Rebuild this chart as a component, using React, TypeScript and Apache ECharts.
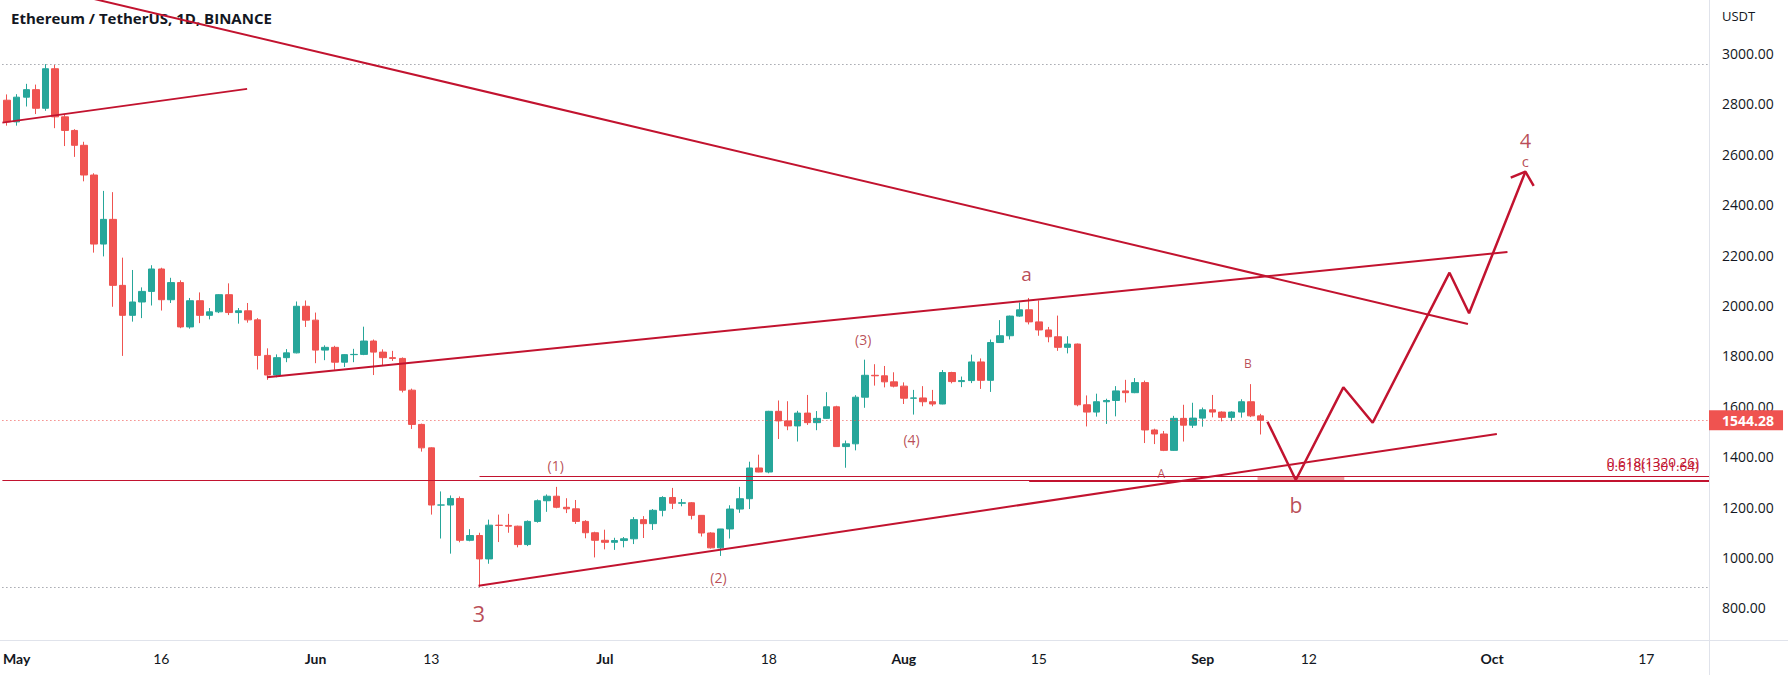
import React, { useEffect, useRef } from "react";
import * as echarts from "echarts";

// ---------- DATA ----------
const dates = [
  "04-30",
  "05-01", "05-02", "05-03", "05-04", "05-05", "05-06", "05-07", "05-08", "05-09", "05-10",
  "05-11", "05-12", "05-13", "05-14", "05-15", "05-16", "05-17", "05-18", "05-19", "05-20",
  "05-21", "05-22", "05-23", "05-24", "05-25", "05-26", "05-27", "05-28", "05-29", "05-30", "05-31",
  "06-01", "06-02", "06-03", "06-04", "06-05", "06-06", "06-07", "06-08", "06-09", "06-10",
  "06-11", "06-12", "06-13", "06-14", "06-15", "06-16", "06-17", "06-18", "06-19", "06-20",
  "06-21", "06-22", "06-23", "06-24", "06-25", "06-26", "06-27", "06-28", "06-29", "06-30",
  "07-01", "07-02", "07-03", "07-04", "07-05", "07-06", "07-07", "07-08", "07-09", "07-10",
  "07-11", "07-12", "07-13", "07-14", "07-15", "07-16", "07-17", "07-18", "07-19", "07-20",
  "07-21", "07-22", "07-23", "07-24", "07-25", "07-26", "07-27", "07-28", "07-29", "07-30", "07-31",
  "08-01", "08-02", "08-03", "08-04", "08-05", "08-06", "08-07", "08-08", "08-09", "08-10",
  "08-11", "08-12", "08-13", "08-14", "08-15", "08-16", "08-17", "08-18", "08-19", "08-20",
  "08-21", "08-22", "08-23", "08-24", "08-25", "08-26", "08-27", "08-28", "08-29", "08-30", "08-31",
  "09-01", "09-02", "09-03", "09-04", "09-05", "09-06", "09-07",
];

const open = [
  2815,
  2729, 2827, 2857, 2783, 2940, 2749, 2695, 2636, 2518, 2244, 2342, 2080, 1961, 2014, 2056, 2145,
  2023, 2091, 1915, 2019, 1961, 1975, 2043, 1972, 1979, 1943, 1802, 1724, 1793, 1812, 1997,
  1942, 1823, 1834, 1775, 1805, 1806, 1859, 1815, 1793, 1790, 1664, 1528, 1435, 1208, 1208,
  1234, 1068, 1087, 994, 1128, 1127, 1124, 1051, 1143, 1225, 1243, 1199, 1193, 1143, 1098,
  1068, 1060, 1067, 1074, 1150, 1134, 1187, 1238, 1215, 1217, 1167, 1097, 1038, 1113, 1192, 1233,
  1355, 1339, 1580, 1542, 1522, 1573, 1535, 1552, 1598, 1440, 1451, 1636, 1723, 1721, 1697,
  1680, 1632, 1633, 1618, 1609, 1734, 1698, 1702, 1776, 1703, 1853, 1880, 1958, 1983, 1935, 1903,
  1876, 1834, 1847, 1606, 1577, 1618, 1623, 1661, 1654, 1694, 1506, 1490, 1425, 1552, 1525,
  1553, 1586, 1577, 1556, 1577, 1618, 1562,
];

const high = [
  2838,
  2839, 2880, 2877, 2958, 2955, 2759, 2700, 2650, 2525, 2455, 2450, 2190, 2141, 2072, 2160, 2150,
  2110, 2100, 2030, 2052, 1990, 2045, 2088, 1990, 2010, 1950, 1830, 1806, 1827, 2016, 2020,
  1972, 1842, 1840, 1807, 1828, 1916, 1865, 1826, 1820, 1794, 1670, 1531, 1437, 1262, 1246,
  1242, 1112, 1098, 1150, 1170, 1173, 1126, 1147, 1230, 1250, 1280, 1235, 1228, 1148, 1102,
  1110, 1078, 1081, 1160, 1164, 1192, 1243, 1276, 1232, 1220, 1168, 1100, 1112, 1207, 1280, 1380,
  1408, 1582, 1623, 1620, 1582, 1645, 1581, 1656, 1602, 1464, 1644, 1785, 1767, 1760, 1735,
  1695, 1665, 1680, 1665, 1744, 1737, 1718, 1805, 1790, 1865, 1942, 1960, 2012, 2030, 2020, 1915,
  1960, 1878, 1849, 1643, 1650, 1630, 1680, 1705, 1712, 1702, 1511, 1502, 1562, 1606, 1614,
  1595, 1645, 1580, 1580, 1628, 1688, 1570,
];

const low = [
  2714,
  2714, 2790, 2760, 2773, 2704, 2633, 2590, 2493, 2210, 2195, 1995, 1800, 1936, 1950, 2000, 1980,
  2010, 1910, 1908, 1930, 1945, 1970, 1962, 1928, 1932, 1746, 1705, 1715, 1775, 1810, 1915,
  1771, 1783, 1745, 1756, 1775, 1803, 1724, 1760, 1780, 1655, 1510, 1420, 1170, 1075, 1015,
  1060, 1064, 881, 975, 1061, 1098, 1040, 1045, 1138, 1181, 1195, 1176, 1133, 1076, 1000,
  1032, 1030, 1040, 1053, 1077, 1109, 1163, 1192, 1203, 1151, 1083, 1035, 1006, 1075, 1177, 1192,
  1338, 1334, 1470, 1505, 1460, 1526, 1505, 1550, 1440, 1356, 1425, 1594, 1682, 1675, 1675,
  1609, 1567, 1600, 1600, 1608, 1691, 1676, 1692, 1669, 1657, 1852, 1865, 1955, 1925, 1880, 1854,
  1820, 1810, 1600, 1520, 1559, 1530, 1560, 1615, 1652, 1454, 1450, 1422, 1423, 1460, 1514,
  1519, 1556, 1540, 1541, 1555, 1557, 1488,
];

const close = [
  2729,
  2827, 2857, 2783, 2940, 2749, 2695, 2636, 2518, 2244, 2342, 2080, 1961, 2014, 2056, 2145, 2023,
  2091, 1915, 2019, 1961, 1975, 2043, 1972, 1979, 1943, 1802, 1724, 1793, 1812, 1997, 1942,
  1823, 1834, 1775, 1805, 1806, 1859, 1815, 1793, 1790, 1664, 1528, 1435, 1208, 1208, 1234,
  1068, 1087, 994, 1128, 1127, 1124, 1051, 1143, 1225, 1243, 1199, 1193, 1143, 1098, 1068,
  1060, 1067, 1074, 1150, 1134, 1187, 1238, 1215, 1217, 1167, 1097, 1038, 1113, 1192, 1233, 1355,
  1339, 1580, 1542, 1522, 1573, 1535, 1552, 1598, 1440, 1451, 1636, 1723, 1721, 1697, 1680,
  1632, 1633, 1618, 1609, 1734, 1698, 1702, 1776, 1703, 1853, 1880, 1958, 1983, 1935, 1903, 1876,
  1834, 1847, 1606, 1577, 1618, 1623, 1661, 1654, 1694, 1506, 1490, 1425, 1552, 1525, 1553,
  1586, 1577, 1556, 1577, 1618, 1562, 1544.28,
];

const lastPrice = 1544.28;

// time axis ticks (days counted from 1 May 2022)
const xTickDays = [0, 15, 31, 43, 61, 78, 92, 106, 123, 134, 153, 169];
const xTickLabels = ["May", "16", "Jun", "13", "Jul", "18", "Aug", "15", "Sep", "12", "Oct", "17"];
const priceTicks = [800, 1000, 1200, 1400, 1600, 1800, 2000, 2200, 2400, 2600, 2800, 3000];

// drawings: [day, price]
const earlyLine = [[-1.48, 2726], [23.9, 2860]];
const downTrend = [[-1.48, 3303], [150.5, 1926.6]];
const channelUpper = [[25.95, 1715], [154.6, 2212.5]];
const channelLower = [[47.9, 887.7], [153.5, 1490]];
const projection = [
  [129.71, 1538.8], [132.65, 1307.3], [137.58, 1675.3], [140.62, 1534.8],
  [148.59, 2130.3], [150.62, 1969.1], [156.46, 2531.2],
];
const arrowHead = [[154.94, 2507.4], [156.46, 2531.2], [157.32, 2474.5]];
const fibLevels = [
  { label: "0.618(1320.26)", price: 1320.26, from: 48 },
  { label: "0.618(1301.64)", price: 1301.64, from: 105 },
];
const supportLevel = 1308;
const zoneDays = [128.68, 137.68];
const zonePrices = [1320.26, 1301.64];

const waveText = ["a", "(3)", "(4)", "(1)", "(2)", "3", "A", "B", "b", "4", "c"];
const waveDay = [104.73, 87.78, 92.8, 55.9, 72.77, 47.93, 118.7, 127.68, 132.65, 156.46, 156.46];
const wavePrice = [2125, 1866, 1469, 1363, 921, 778, 1334, 1768, 1208, 2655, 2574];
const waveSize = [19, 14, 14, 14, 14, 22, 12, 12, 21, 20, 15];

// ---------- CHART ----------
const LINE = "#c2132f";
const TEXT = "#a81c2c";
const XMIN = -1.48;
const XMAX = 175.5;

function dayOf(s: string) {
  const [m, d] = s.split("-").map(Number);
  return (Date.UTC(2022, m - 1, d) - Date.UTC(2022, 4, 1)) / 86400000;
}

export default function App() {
  const ref = useRef<HTMLDivElement>(null);

  useEffect(() => {
    document.body.style.margin = "0";
    const chart = echarts.init(ref.current!, null, { renderer: "svg" });

    const candles = dates.map((s, i) => [dayOf(s), open[i], close[i], low[i], high[i]]);
    const maxHigh = Math.max(...high);
    const minLow = Math.min(...low);

    const lineSeries = (data: number[][], width: number) => ({
      type: "line",
      data,
      symbol: "none",
      silent: true,
      z: 5,
      lineStyle: { color: LINE, width },
      emphasis: { disabled: true },
    });

    const noLabel = { show: false };
    const dots = [1, 3];

    chart.setOption({
      animation: false,
      backgroundColor: "#ffffff",
      grid: { left: 0, right: 79, top: 0, bottom: 35 },
      xAxis: {
        type: "value",
        min: XMIN,
        max: XMAX,
        axisLine: { show: false },
        axisTick: { show: false },
        splitLine: { show: false },
        axisLabel: {
          customValues: xTickDays,
          margin: 11,
          formatter: (v: number) => {
            const i = xTickDays.indexOf(v);
            if (i < 0) return "";
            const t = xTickLabels[i];
            return /^\d+$/.test(t) ? `{n|${t}}` : `{m|${t}}`;
          },
          rich: {
            m: { fontFamily: "Lato", fontWeight: "bold", fontSize: 14, color: "#131722" },
            n: { fontFamily: "Lato", fontSize: 14, color: "#131722" },
          },
        },
      },
      yAxis: {
        type: "value",
        position: "right",
        min: 672.2,
        max: 3212.8,
        axisLine: { show: false },
        axisTick: { show: false },
        splitLine: { show: false },
        axisLabel: {
          customValues: priceTicks,
          margin: 13,
          formatter: (v: number) => v.toFixed(2),
          color: "#131722",
          fontFamily: "Open Sans",
          fontSize: 14,
        },
      },
      graphic: [
        {
          type: "line",
          z: 0,
          shape: { x1: 1709.5, y1: 0, x2: 1709.5, y2: 675 },
          style: { stroke: "#e0e3eb", lineWidth: 1 },
        },
        {
          type: "line",
          z: 0,
          shape: { x1: 0, y1: 640.5, x2: 1788, y2: 640.5 },
          style: { stroke: "#e0e3eb", lineWidth: 1 },
        },
        {
          type: "text",
          left: 11,
          top: 10,
          style: {
            text: "Ethereum / TetherUS, 1D, BINANCE",
            font: "bold 15px 'Open Sans'",
            fill: "#131722",
          },
        },
        {
          type: "text",
          left: 1722,
          top: 9,
          style: { text: "USDT", font: "13px 'Open Sans'", fill: "#131722" },
        },
      ],
      series: [
        {
          type: "candlestick",
          data: candles,
          barWidth: 7,
          z: 3,
          itemStyle: {
            color: "#26a69a",
            color0: "#ef5350",
            borderColor: "#26a69a",
            borderColor0: "#ef5350",
            borderWidth: 1,
          },
          emphasis: { disabled: true },
          markLine: {
            silent: true,
            symbol: ["none", "none"],
            data: [
              { yAxis: maxHigh, lineStyle: { color: "#787b86", type: dots, width: 1 }, label: noLabel },
              { yAxis: minLow, lineStyle: { color: "#787b86", type: dots, width: 1 }, label: noLabel },
              { yAxis: supportLevel, lineStyle: { color: LINE, type: "solid", width: 1 }, label: noLabel },
              ...fibLevels.map((f) => [
                {
                  coord: [f.from, f.price],
                  lineStyle: { color: LINE, type: "solid", width: 1 },
                  label: {
                    show: true,
                    position: "insideEndTop",
                    distance: [10, 8],
                    formatter: f.label,
                    color: LINE,
                    fontFamily: "Open Sans",
                    fontSize: 13.5,
                  },
                },
                { coord: [XMAX, f.price] },
              ]),
              {
                yAxis: lastPrice,
                lineStyle: { color: "#ef5350", type: dots, width: 1 },
                label: {
                  show: true,
                  position: "end",
                  distance: 0,
                  formatter: lastPrice.toFixed(2),
                  color: "#ffffff",
                  backgroundColor: "#ef5350",
                  padding: [3, 9, 3, 13],
                  fontFamily: "Open Sans",
                  fontWeight: "bold",
                  fontSize: 14,
                  lineHeight: 14,
                },
              },
            ],
          },
          markArea: {
            silent: true,
            itemStyle: { color: "rgba(220, 60, 60, 0.5)" },
            data: [[{ coord: [zoneDays[0], zonePrices[0]] }, { coord: [zoneDays[1], zonePrices[1]] }]],
          },
        },
        lineSeries(earlyLine, 2),
        lineSeries(downTrend, 2),
        lineSeries(channelUpper, 2),
        lineSeries(channelLower, 2),
        lineSeries(projection, 2.5),
        lineSeries(arrowHead, 2.5),
        {
          type: "scatter",
          silent: true,
          z: 6,
          symbolSize: 1,
          itemStyle: { color: "rgba(0,0,0,0)" },
          data: waveText.map((t, i) => ({
            name: t,
            value: [waveDay[i], wavePrice[i]],
            label: { fontSize: waveSize[i] },
          })),
          label: {
            show: true,
            position: "inside",
            formatter: "{b}",
            color: TEXT,
            fontFamily: "Open Sans",
          },
        },
      ],
    });

    return () => chart.dispose();
  }, []);

  return <div ref={ref} style={{ width: 1788, height: 675 }} />;
}
